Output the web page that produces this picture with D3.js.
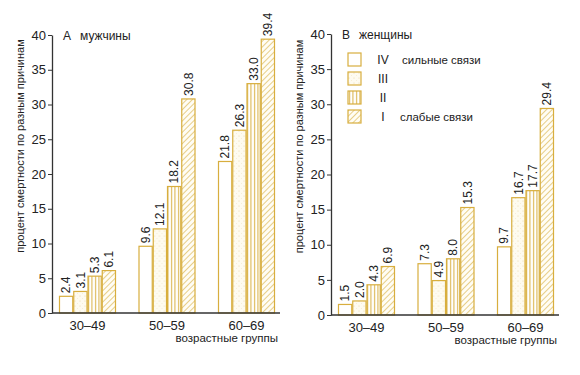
<!DOCTYPE html>
<html lang="ru">
<head>
<meta charset="UTF-8">
<title>процент смертности по разным причинам</title>
<script src="https://d3js.org/d3.v7.min.js"></script>
<style>
  body { margin: 0; background: #fff; }
  svg text { font-family: "Liberation Sans", Arial, sans-serif; fill: #222; }
</style>
</head>
<body>
<svg id="chart" width="580" height="375"></svg>
<script>
// data
const groups = ["30–49", "50–59", "60–69"];
const levels = ["IV", "III", "II", "I"];
const yTicks = [0, 5, 10, 15, 20, 25, 30, 35, 40];

const menIV = [2.4, 9.6, 21.8];
const menIII = [3.1, 12.1, 26.3];
const menII = [5.3, 18.2, 33.0];
const menI = [6.1, 30.8, 39.4];

const womenIV = [1.5, 7.3, 9.7];
const womenIII = [2.0, 4.9, 16.7];
const womenII = [4.3, 8.0, 17.7];
const womenI = [6.9, 15.3, 29.4];

const legendNotes = { "IV": "сильные связи", "I": "слабые связи" };

const gold = "#d8ae3e";
const svg = d3.select("#chart");

// fill patterns for the four levels
const defs = svg.append("defs");
const pDots = defs.append("pattern").attr("id", "pat-III")
    .attr("patternUnits", "userSpaceOnUse").attr("width", 5).attr("height", 5);
pDots.append("rect").attr("width", 5).attr("height", 5).attr("fill", "#fefbf0");
pDots.append("circle").attr("cx", 1).attr("cy", 1).attr("r", 0.5).attr("fill", "#e8d49a");
pDots.append("circle").attr("cx", 3.5).attr("cy", 3.5).attr("r", 0.4).attr("fill", "#efe0b4");

const pVert = defs.append("pattern").attr("id", "pat-II")
    .attr("patternUnits", "userSpaceOnUse").attr("width", 3.5).attr("height", 4);
pVert.append("rect").attr("width", 3.5).attr("height", 4).attr("fill", "#fff");
pVert.append("line").attr("x1", 1.5).attr("x2", 1.5).attr("y1", 0).attr("y2", 4)
    .attr("stroke", gold).attr("stroke-width", 1);

const pDiag = defs.append("pattern").attr("id", "pat-I")
    .attr("patternUnits", "userSpaceOnUse").attr("width", 4).attr("height", 4)
    .attr("patternTransform", "rotate(45)");
pDiag.append("rect").attr("width", 4).attr("height", 4).attr("fill", "#fffdf5");
pDiag.append("line").attr("x1", 0).attr("x2", 0).attr("y1", 0).attr("y2", 4)
    .attr("stroke", gold).attr("stroke-width", 1.2);

const fills = { "IV": "#fff", "III": "url(#pat-III)", "II": "url(#pat-II)", "I": "url(#pat-I)" };

function drawPanel(opts) {
    const x = d3.scaleBand()
        .domain(groups)
        .range([opts.left, opts.left + 230])
        .paddingInner(0.283)
        .paddingOuter(0.088);
    const xi = d3.scaleBand().domain(levels).range([0, x.bandwidth()]);
    const y = d3.scaleLinear().domain([0, 40]).range([opts.bottom, opts.top]);

    const g = svg.append("g");

    const rows = groups.map((grp, i) => ({
        group: grp,
        values: levels.map(l => ({ level: l, value: opts.series[l][i] }))
    }));

    const grpG = g.selectAll(".grp").data(rows).enter().append("g")
        .attr("transform", d => `translate(${x(d.group)},0)`);

    grpG.selectAll("rect").data(d => d.values).enter().append("rect")
        .attr("x", d => xi(d.level) + 0.5)
        .attr("y", d => y(d.value))
        .attr("width", xi.bandwidth() - 1)
        .attr("height", d => y(0) - y(d.value))
        .attr("fill", d => fills[d.level])
        .attr("stroke", gold)
        .attr("stroke-width", 1.2);

    grpG.selectAll(".val").data(d => d.values).enter().append("text")
        .attr("class", "val")
        .attr("transform", d => `translate(${xi(d.level) + xi.bandwidth() / 2},${y(d.value) - 3}) rotate(-90)`)
        .attr("dy", "0.36em")
        .style("font-size", "12px")
        .text(d => d.value.toFixed(1));

    // y axis
    const ax = g.append("g")
        .attr("transform", `translate(${opts.left},0)`)
        .call(d3.axisLeft(y).tickValues(yTicks).tickSize(4).tickSizeOuter(0));
    ax.select(".domain").attr("stroke", "#333").attr("stroke-width", 1.3);
    ax.selectAll(".tick line").attr("stroke", "#333");
    ax.selectAll(".tick text").style("font-size", "13px").attr("fill", "#222").attr("x", -6);

    // baseline
    g.append("line")
        .attr("x1", opts.left).attr("x2", opts.left + 228)
        .attr("y1", y(0)).attr("y2", y(0))
        .attr("stroke", "#333").attr("stroke-width", 1.6);

    // category labels
    g.selectAll(".cat").data(groups).enter().append("text")
        .attr("x", d => x(d) + x.bandwidth() / 2)
        .attr("y", opts.bottom + 17)
        .attr("text-anchor", "middle")
        .style("font-size", "13px")
        .text(d => d);

    g.append("text")
        .attr("x", opts.left + 226)
        .attr("y", opts.bottom + 29)
        .attr("text-anchor", "end")
        .style("font-size", "11.5px")
        .text("возрастные группы");

    g.append("text")
        .attr("transform", `translate(${opts.left - 32},${(opts.top + opts.bottom) / 2 - 28}) rotate(-90)`)
        .attr("text-anchor", "middle")
        .attr("dy", "0.35em")
        .style("font-size", "11px")
        .text("процент смертности по разным причинам");

    g.append("text").attr("x", opts.left + 11).attr("y", opts.top + 5)
        .style("font-size", "12px").text(opts.letter);
    g.append("text").attr("x", opts.left + 28).attr("y", opts.top + 5)
        .style("font-size", "12px").text(opts.title);

    return { x, y };
}

drawPanel({
    left: 52, top: 35, bottom: 313, letter: "А", title: "мужчины",
    series: { "IV": menIV, "III": menIII, "II": menII, "I": menI }
});

drawPanel({
    left: 331, top: 34, bottom: 315, letter: "В", title: "женщины",
    series: { "IV": womenIV, "III": womenIII, "II": womenII, "I": womenI }
});

// legend
const leg = svg.append("g").attr("transform", "translate(348,53)");
const legRow = d3.scaleBand().domain(levels).range([0, 76]);
const li = leg.selectAll(".li").data(levels).enter().append("g")
    .attr("transform", d => `translate(0,${legRow(d)})`);
li.append("rect").attr("width", 13).attr("height", 13)
    .attr("fill", d => fills[d]).attr("stroke", gold).attr("stroke-width", 1.2);
li.append("text").attr("x", 35).attr("y", 7).attr("dy", "0.35em")
    .attr("text-anchor", "middle").style("font-size", "12px").text(d => d);
li.append("text").attr("x", d => d === "IV" ? 54 : 52).attr("y", 7).attr("dy", "0.35em")
    .style("font-size", "11.5px").text(d => legendNotes[d] || "");
</script>
</body>
</html>
